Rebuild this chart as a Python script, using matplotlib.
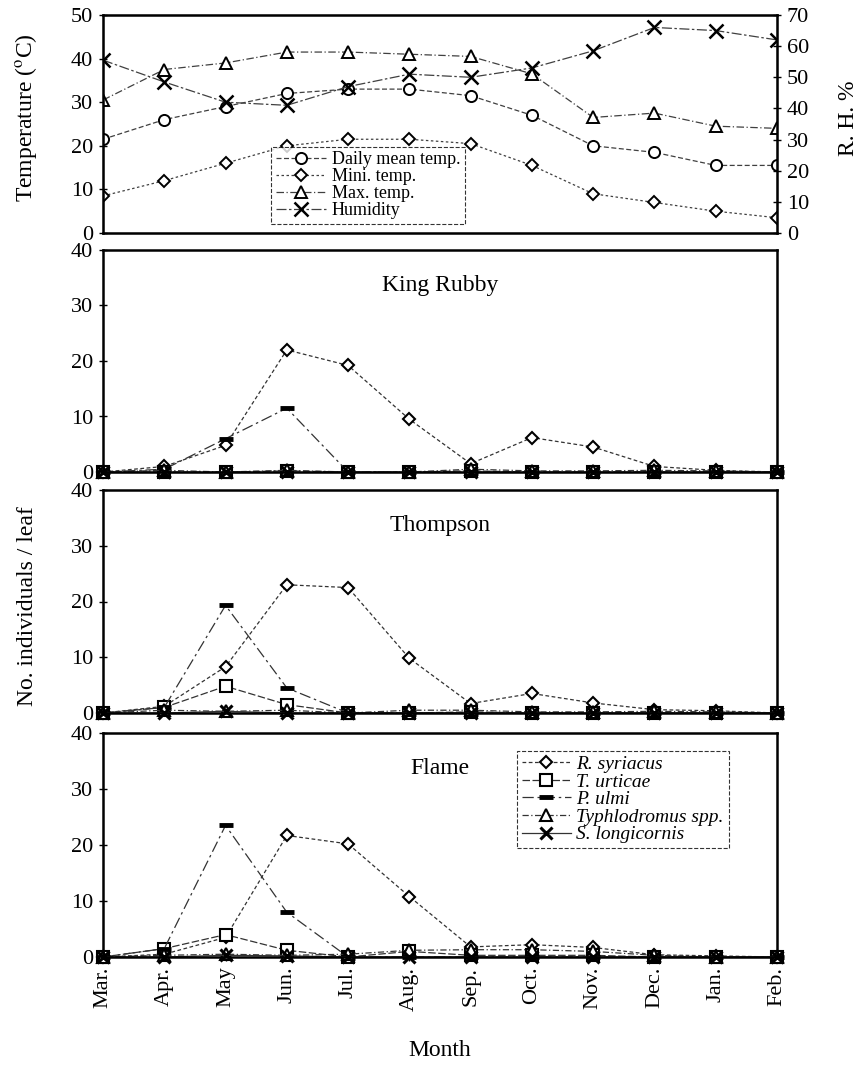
import matplotlib
matplotlib.use("Agg")
from matplotlib import pyplot as plt

plt.rcParams['font.family'] = ['Liberation Serif', 'DejaVu Serif']
plt.rcParams['mathtext.fontset'] = 'stix'

months = ['Mar.', 'Apr.', 'May', 'Jun.', 'Jul.', 'Aug.',
          'Sep.', 'Oct.', 'Nov.', 'Dec.', 'Jan.', 'Feb.']

# weather
daily_mean = [21.5, 26, 29, 32, 33, 33, 31.5, 27, 20, 18.5, 15.5, 15.5]
mini_temp = [8.5, 12, 16, 20, 21.5, 21.5, 20.5, 15.5, 9, 7, 5, 3.5]
max_temp = [30.5, 37.5, 39, 41.5, 41.5, 41, 40.5, 36.5, 26.5, 27.5, 24.5, 24]
humidity = [55.5, 48.5, 42, 41, 47, 51, 50, 53, 58.5, 66, 65, 62]

# King Rubby
kr_syriacus = [0, 1, 4.8, 22, 19.2, 9.5, 1.5, 6.2, 4.5, 1, 0.3, 0]
kr_urticae = [0, 0, 0, 0.2, 0, 0, 0.2, 0, 0, 0, 0, 0]
kr_ulmi = [0, 0.5, 6, 11.5, 0, 0, 0, 0, 0, 0, 0, 0]
kr_typhlo = [0, 0.3, 0, 0.3, 0, 0, 0.5, 0.2, 0.2, 0.3, 0.2, 0]
kr_longi = [0, 0, 0, 0, 0, 0, 0, 0, 0, 0, 0, 0]

# Thompson
th_syriacus = [0, 1.2, 8.3, 23, 22.5, 9.8, 1.7, 3.5, 1.8, 0.6, 0.4, 0]
th_urticae = [0, 1, 4.8, 1.5, 0, 0, 0.2, 0, 0, 0, 0, 0]
th_ulmi = [0, 1, 19.3, 4.5, 0, 0, 0, 0, 0, 0, 0, 0]
th_typhlo = [0, 0.5, 0.3, 0.5, 0, 0.5, 0.5, 0.2, 0.2, 0.3, 0.2, 0]
th_longi = [0, 0, 0.3, 0, 0, 0, 0, 0, 0, 0, 0, 0]

# Flame
fl_syriacus = [0, 0.5, 3.5, 21.7, 20.2, 10.8, 1.8, 2.2, 1.7, 0.4, 0.2, 0]
fl_urticae = [0, 1.5, 4, 1.2, 0, 1, 0.3, 0.3, 0.3, 0, 0, 0]
fl_ulmi = [0, 1.5, 23.5, 8, 0, 0, 0, 0, 0, 0, 0, 0]
fl_typhlo = [0, 0.3, 0.5, 0.3, 0.5, 1.2, 1.3, 1.3, 1, 0.3, 0, 0]
fl_longi = [0, 0, 0.3, 0.2, 0, 0, 0, 0, 0, 0, 0, 0]

species = ['R. syriacus', 'T. urticae', 'P. ulmi',
           'Typhlodromus spp.', 'S. longicornis']
panels = [('King Rubby', [kr_syriacus, kr_urticae, kr_ulmi, kr_typhlo, kr_longi]),
          ('Thompson', [th_syriacus, th_urticae, th_ulmi, th_typhlo, th_longi]),
          ('Flame', [fl_syriacus, fl_urticae, fl_ulmi, fl_typhlo, fl_longi])]

x = list(range(len(months)))
W, H = 865, 1074


def box(top, bottom, left=103, right=777):
    return [left / W, 1 - bottom / H, (right - left) / W, (bottom - top) / H]


def style_axis(ax):
    for s in ax.spines.values():
        s.set_linewidth(1.8)
    ax.tick_params(direction='inout', length=6, width=1, labelsize=16, pad=4)
    ax.set_xlim(0, 11)
    ax.set_xticks(x)


fig = plt.figure(figsize=(W / 100, H / 100), dpi=100)

# top weather panel
ax0 = fig.add_axes(box(15, 233))
style_axis(ax0)
ax0.set_ylim(0, 50)
ax0.set_yticks(range(0, 51, 10))
ax0.set_xticklabels([])
ax0.tick_params(axis='x', length=0)
h1, = ax0.plot(x, daily_mean, linestyle=(0, (4, 2)), color='0.25', lw=0.9,
               marker='o', ms=8, mfc='white', mec='black', mew=1.4,
               label='Daily mean temp.')
h2, = ax0.plot(x, mini_temp, linestyle=(0, (2, 2)), color='0.25', lw=0.9,
               marker='D', ms=6, mfc='white', mec='black', mew=1.4,
               label='Mini. temp.')
h3, = ax0.plot(x, max_temp, linestyle=(0, (6, 2, 1, 2)), color='0.25', lw=0.9,
               marker='^', ms=8, mfc='white', mec='black', mew=1.4,
               label='Max. temp.')

axr = ax0.twinx()
axr.set_ylim(0, 70)
axr.set_yticks(range(0, 71, 10))
axr.tick_params(direction='inout', length=6, width=1, labelsize=16, pad=4)
h4, = axr.plot(x, humidity, linestyle=(0, (8, 2, 2, 2)), color='0.25', lw=0.9,
               marker='x', ms=10, mec='black', mew=1.8, label='Humidity')
leg0 = ax0.legend(handles=[h1, h2, h3, h4], loc='lower left',
                  bbox_to_anchor=(0.236, 0.0), fontsize=13, frameon=True,
                  fancybox=False, edgecolor='black', handlelength=2.8,
                  borderpad=0.25, labelspacing=0.0, handletextpad=0.3)
leg0.get_frame().set_linestyle('--')
leg0.get_frame().set_linewidth(0.8)

# mite panels
tops = [(250, 472), (490, 713), (733, 957)]
sp_styles = [
    dict(marker='D', ms=6, mfc='white', mew=1.5, linestyle=(0, (3, 2))),
    dict(marker='s', ms=8, mfc='white', mew=1.5, linestyle=(0, (6, 2))),
    dict(marker='_', ms=10, mew=3.5, linestyle=(0, (9, 3, 2, 3))),
    dict(marker='^', ms=8, mfc='white', mew=1.5, linestyle=(0, (5, 2, 1, 2))),
    dict(marker='x', ms=9, mew=2.2, linestyle='-'),
]

axes = []
for (name, series), (t, b) in zip(panels, tops):
    ax = fig.add_axes(box(t, b))
    style_axis(ax)
    ax.set_ylim(0, 40)
    ax.set_yticks(range(0, 41, 10))
    handles = []
    for sp, vals, st in zip(species, series, sp_styles):
        h, = ax.plot(x, vals, color='0.2', mec='black', lw=0.9,
                     label=sp, clip_on=False, **st)
        handles.append(h)
    ax.text(0.5, 0.84, name, transform=ax.transAxes,
            ha='center', va='center', fontsize=17)
    axes.append((ax, handles))

for ax, _ in axes[:-1]:
    ax.set_xticklabels([])
    ax.tick_params(axis='x', length=0)

ax_last, handles = axes[-1]
ax_last.set_xticklabels(months, rotation=90, fontsize=16)
leg = ax_last.legend(handles=handles, loc='upper left',
                     bbox_to_anchor=(0.6, 0.965),
                     prop={'style': 'italic', 'size': 14}, frameon=True,
                     fancybox=False, edgecolor='black', handlelength=2.5,
                     borderpad=0.25, labelspacing=0.0, handletextpad=0.3)
leg.get_frame().set_linestyle('--')
leg.get_frame().set_linewidth(0.8)

fig.text(26 / W, 1 - 118 / H, 'Temperature ($^{\\rm o}$C)', rotation=90,
         ha='center', va='center', fontsize=17)
fig.text(848 / W, 1 - 118 / H, 'R. H. %', rotation=90,
         ha='center', va='center', fontsize=17)
fig.text(28 / W, 1 - 606 / H, 'No. individuals / leaf', rotation=90,
         ha='center', va='center', fontsize=17)
fig.text(440 / W, 1 - 1050 / H, 'Month', ha='center', va='center', fontsize=17)

fig.savefig('out.png', dpi=100)
